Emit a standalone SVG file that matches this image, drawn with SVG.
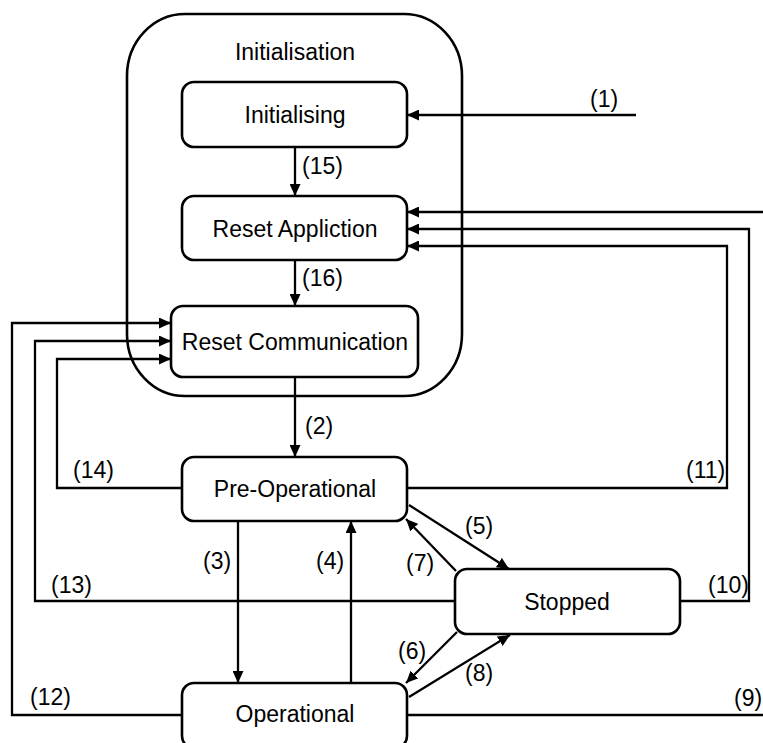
<svg xmlns="http://www.w3.org/2000/svg" width="763" height="743" viewBox="0 0 763 743">
<style>
.box{fill:#fff;stroke:#000;stroke-width:2.6}
.cont{fill:none;stroke:#000;stroke-width:2.6}
.t{font-family:"Liberation Sans",Arial,sans-serif;font-size:23px;fill:#000}
.c{text-anchor:middle}
.ln{fill:none;stroke:#000;stroke-width:2.3}
</style>
<defs>
<marker id="ah" markerUnits="userSpaceOnUse" markerWidth="12" markerHeight="11" refX="12" refY="5.5" orient="auto">
<path d="M0,0 L12,5.5 L0,11 z" fill="#000"/>
</marker>
</defs>
<rect width="763" height="743" fill="#fff"/>
<g id="initialisation">
<rect class="cont" x="127" y="14" width="335" height="382" rx="58" ry="62"/>
<text class="t c" x="295" y="60">Initialisation</text>
</g>
<g id="connectors">
<path class="ln" d="M636,115 L407,115" marker-end="url(#ah)"/>
<path class="ln" d="M295,147 L295,196" marker-end="url(#ah)"/>
<path class="ln" d="M295,260 L295,306" marker-end="url(#ah)"/>
<path class="ln" d="M295,377 L295,457" marker-end="url(#ah)"/>
<path class="ln" d="M238,521 L238,683" marker-end="url(#ah)"/>
<path class="ln" d="M351,683 L351,521" marker-end="url(#ah)"/>
<path class="ln" d="M409,505 L509,569" marker-end="url(#ah)"/>
<path class="ln" d="M456,571 L406,519" marker-end="url(#ah)"/>
<path class="ln" d="M457,632 L406,683" marker-end="url(#ah)"/>
<path class="ln" d="M409,697 L510,635" marker-end="url(#ah)"/>
<path class="ln" d="M407,715 L766,715 L766,212 L407,212" marker-end="url(#ah)"/>
<path class="ln" d="M680,601 L749,601 L749,229 L407,229" marker-end="url(#ah)"/>
<path class="ln" d="M407,488 L727,488 L727,246 L407,246" marker-end="url(#ah)"/>
<path class="ln" d="M182,715 L12,715 L12,323 L171,323" marker-end="url(#ah)"/>
<path class="ln" d="M455,601 L35,601 L35,341 L171,341" marker-end="url(#ah)"/>
<path class="ln" d="M182,488 L57,488 L57,359 L171,359" marker-end="url(#ah)"/>
<text class="t" x="590" y="107">(1)</text>
<text class="t" x="302" y="174">(15)</text>
<text class="t" x="302" y="286">(16)</text>
<text class="t" x="305" y="434">(2)</text>
<text class="t" x="203" y="569">(3)</text>
<text class="t" x="316" y="569">(4)</text>
<text class="t" x="465" y="534">(5)</text>
<text class="t" x="398" y="659">(6)</text>
<text class="t" x="406" y="571">(7)</text>
<text class="t" x="465" y="681">(8)</text>
<text class="t" x="734" y="706">(9)</text>
<text class="t" x="708" y="593">(10)</text>
<text class="t" x="686" y="478">(11)</text>
<text class="t" x="30" y="705">(12)</text>
<text class="t" x="51" y="593">(13)</text>
<text class="t" x="73" y="478">(14)</text>
</g>
<g id="initialising">
<rect class="box" x="182" y="82" width="225" height="65" rx="12"/>
<text class="t c" x="295" y="123">Initialising</text>
</g>
<g id="reset-application">
<rect class="box" x="182" y="196" width="225" height="64" rx="12"/>
<text class="t c" x="295" y="237">Reset Appliction</text>
</g>
<g id="reset-communication">
<rect class="box" x="171" y="306" width="247" height="71" rx="12"/>
<text class="t c" x="295" y="350">Reset Communication</text>
</g>
<g id="pre-operational">
<rect class="box" x="182" y="457" width="225" height="64" rx="12"/>
<text class="t c" x="295" y="497">Pre-Operational</text>
</g>
<g id="stopped">
<rect class="box" x="455" y="569" width="225" height="65" rx="12"/>
<text class="t c" x="567" y="610">Stopped</text>
</g>
<g id="operational">
<rect class="box" x="182" y="683" width="225" height="65" rx="12"/>
<text class="t c" x="295" y="722">Operational</text>
</g>
</svg>
